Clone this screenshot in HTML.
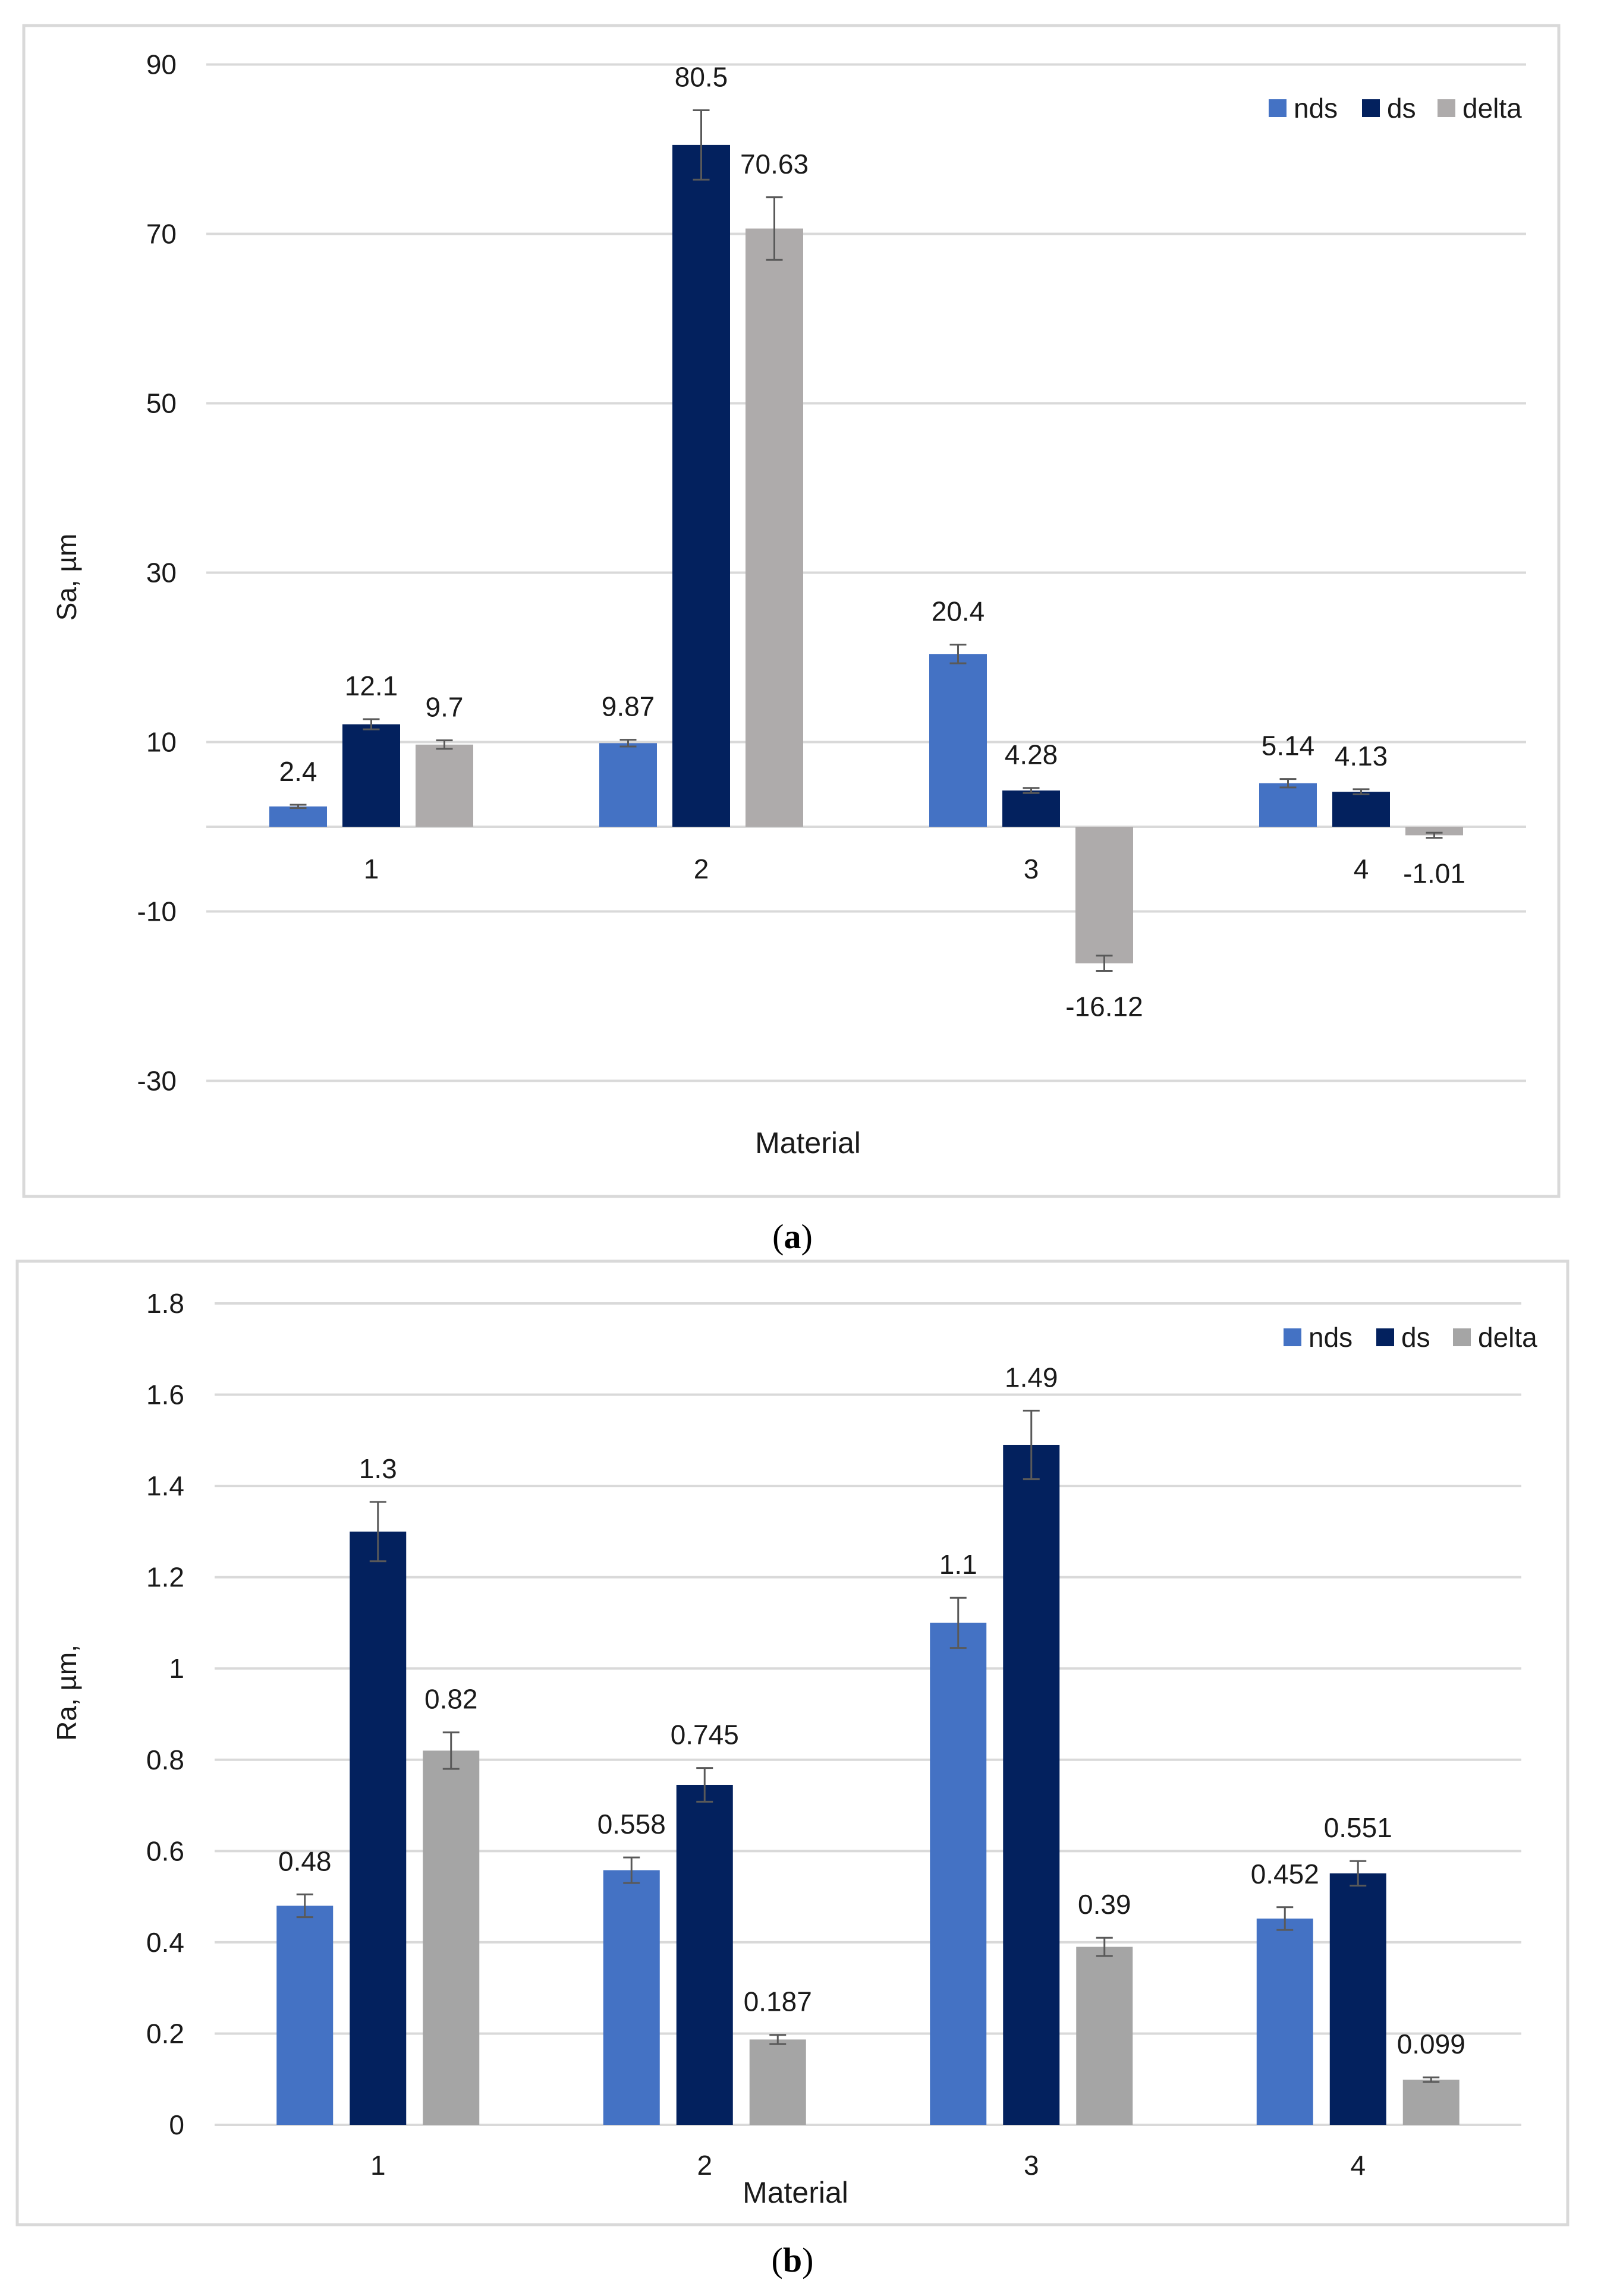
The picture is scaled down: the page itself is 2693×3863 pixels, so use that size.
<!DOCTYPE html>
<html><head><meta charset="utf-8">
<style>
html,body{margin:0;padding:0;background:#fff;}
svg{display:block;}
text{font-family:"Liberation Sans",sans-serif;fill:#1a1a1a;}
</style></head>
<body>
<svg id="svg" width="2693" height="3863" viewBox="0 0 2693 3863" xmlns="http://www.w3.org/2000/svg">
<rect width="2693" height="3863" fill="#fff"/>
<rect x="40" y="43" width="2582" height="1970" fill="none" stroke="#d9d9d9" stroke-width="5"/>
<rect x="29" y="2122" width="2608" height="1621" fill="none" stroke="#d9d9d9" stroke-width="5"/>
<g id="ca"></g>
<g id="cb"></g>
<text x="1333" y="2100" text-anchor="middle" style="font-family:'Liberation Serif',serif;font-size:58px;fill:#000">(<tspan font-weight="bold">a</tspan>)</text>
<text x="1333" y="3822" text-anchor="middle" style="font-family:'Liberation Serif',serif;font-size:58px;fill:#000">(<tspan font-weight="bold">b</tspan>)</text>
</svg>
<script>
const categories = ["1","2","3","4"];
const seriesNames = ["nds","ds","delta"];
// Chart a (Sa)
const aNds = [2.4, 9.87, 20.4, 5.14];
const aDs = [12.1, 80.5, 4.28, 4.13];
const aDelta = [9.7, 70.63, -16.12, -1.01];
const aNdsErr = [0.2, 0.4, 1.1, 0.5];
const aDsErr = [0.6, 4.1, 0.3, 0.3];
const aDeltaErr = [0.5, 3.7, 0.9, 0.3];
const aTicks = [90, 70, 50, 30, 10, -10, -30];
const aLabels = ["2.4","9.87","20.4","5.14","12.1","80.5","4.28","4.13","9.7","70.63","-16.12","-1.01"];
// Chart b (Ra)
const bNds = [0.48, 0.558, 1.1, 0.452];
const bDs = [1.3, 0.745, 1.49, 0.551];
const bDelta = [0.82, 0.187, 0.39, 0.099];
const bNdsErr = [0.025, 0.028, 0.055, 0.025];
const bDsErr = [0.065, 0.037, 0.075, 0.027];
const bDeltaErr = [0.04, 0.01, 0.02, 0.005];
const bTicks = [1.8, 1.6, 1.4, 1.2, 1, 0.8, 0.6, 0.4, 0.2, 0];
const bLabels = ["0.48","0.558","1.1","0.452","1.3","0.745","1.49","0.551","0.82","0.187","0.39","0.099"];

const NS = "http://www.w3.org/2000/svg";
function mk(parent, tag, attrs, txt){
  const e = document.createElementNS(NS, tag);
  for (const k in attrs) e.setAttribute(k, attrs[k]);
  if (txt !== undefined) e.textContent = txt;
  parent.appendChild(e);
  return e;
}

function draw(g, cfg){
  const y = v => cfg.zeroY - v * cfg.ppu;
  const x = i => cfg.x0 + cfg.band * (i + 0.5);
  cfg.ticks.forEach(t => {
    const l = mk(g, "line", {x1: cfg.x0, x2: cfg.x1, y1: y(t), y2: y(t), stroke: "#d9d9d9", "stroke-width": 4});
    
    
    const tx = mk(g, "text", {x: cfg.tickX, y: y(t) + 16, "text-anchor": "end", "font-size": 46}, String(t));
    
    
  });
  if (cfg.ticks.indexOf(0) < 0) {
    const z = mk(g, "line", {x1: cfg.x0, x2: cfg.x1, y1: y(0), y2: y(0), stroke: "#d9d9d9", "stroke-width": 4});
    
    
  }
  const series = [cfg.nds, cfg.ds, cfg.delta];
  const errs = [cfg.ndsErr, cfg.dsErr, cfg.deltaErr];
  const colors = ["#4472C4", "#03215E", cfg.deltaColor];
  series.forEach((vals, s) => {
    vals.forEach((v, i) => {
      const cx = x(i) + (s - 1) * cfg.off;
      const top = Math.min(y(v), y(0)), h = Math.abs(y(v) - y(0));
      const r = mk(g, "rect", {x: cx - cfg.bw / 2, y: top, width: cfg.bw, height: h, fill: colors[s]});
      
      
      const e = errs[s][i];
      const e1 = y(v + e), e2 = y(v - e);
      const eg = mk(g, "path", {d: `M${cx},${e1}V${e2}M${cx-14},${e1}H${cx+14}M${cx-14},${e2}H${cx+14}`, stroke: "#595959", "stroke-width": 3, fill: "none"});
      
      
      const lbl = cfg.labels[s * 4 + i];
      const ly = v >= 0 ? y(v + e) - 40 : y(v - e) + 76;
      const t = mk(g, "text", {x: cx, y: ly, "text-anchor": "middle", "font-size": 46}, lbl);
      
      
    });
  });
  categories.forEach((c, i) => {
    const t = mk(g, "text", {x: x(i), y: cfg.catY, "text-anchor": "middle", "font-size": 46}, c);
    
    
  });
  const xt = mk(g, "text", {x: cfg.matX, y: cfg.matY, "text-anchor": "middle", "font-size": 50}, "Material");
  
  
  const yt = mk(g, "text", {x: 0, y: 0, "text-anchor": "middle", "font-size": 46, transform: `translate(${cfg.yTitleX},${cfg.yTitleY}) rotate(-90)`}, cfg.yTitle);
  
  
  cfg.legend.forEach((lx, s) => {
    const sq = mk(g, "rect", {x: lx, y: cfg.legY - 15, width: 30, height: 30, fill: colors[s]});
    
    
    const t = mk(g, "text", {x: lx + 42, y: cfg.legY + 16, "font-size": 46}, seriesNames[s]);
    
    
  });
}

draw(document.getElementById("ca"), {
  zeroY: 1391, ppu: 14.25, x0: 347, x1: 2567, band: 555, off: 123, bw: 97,
  ticks: aTicks, tickX: 297, nds: aNds, ds: aDs, delta: aDelta,
  ndsErr: aNdsErr, dsErr: aDsErr, deltaErr: aDeltaErr, labels: aLabels,
  deltaColor: "#AEABAB", catY: 1478, matX: 1359, matY: 1940,
  yTitle: "Sa,  µm", yTitleX: 128, yTitleY: 971,
  legend: [2134, 2291, 2418], legY: 182
});
draw(document.getElementById("cb"), {
  zeroY: 3575, ppu: 767.8, x0: 361, x1: 2559, band: 549.5, off: 123, bw: 95,
  ticks: bTicks, tickX: 310, nds: bNds, ds: bDs, delta: bDelta,
  ndsErr: bNdsErr, dsErr: bDsErr, deltaErr: bDeltaErr, labels: bLabels,
  deltaColor: "#A5A5A5", catY: 3659, matX: 1338, matY: 3706,
  yTitle: "Ra, µm,", yTitleX: 128, yTitleY: 2848,
  legend: [2159, 2315, 2444], legY: 2250
});
</script>
</body></html>
